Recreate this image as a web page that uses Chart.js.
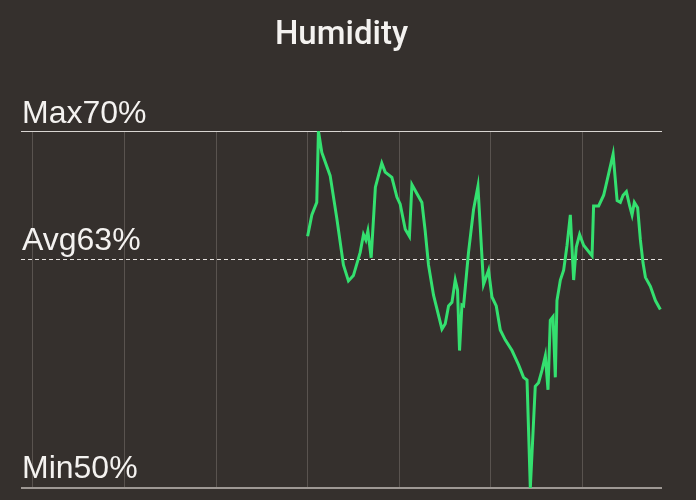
<!DOCTYPE html>
<html>
<head>
<meta charset="utf-8">
<script src="https://cdn.jsdelivr.net/npm/chart.js@4.4.1/dist/chart.umd.min.js"></script>
<style>
  html, body { margin: 0; padding: 0; background: #35302d; }
  #wrap { width: 696px; height: 500px; }
</style>
</head>
<body>
<div id="wrap"><canvas id="humidityChart" width="696" height="500"></canvas></div>
<script>
// Humidity readings, time in days since start of the week window
const dayTimes = [
    3.00, 3.046, 3.10, 3.118, 3.155, 3.246, 3.319, 3.391, 3.446, 3.50,
    3.574, 3.61, 3.636, 3.658, 3.694, 3.74, 3.81, 3.847, 3.92, 3.975,
    4.011, 4.066, 4.112, 4.139, 4.193, 4.248, 4.284, 4.32, 4.375, 4.467,
    4.503, 4.539, 4.576, 4.612, 4.637, 4.659, 4.685, 4.703, 4.757, 4.812,
    4.86, 4.921, 4.976, 5.013, 5.06, 5.104, 5.158, 5.232, 5.304, 5.358,
    5.396, 5.432, 5.486, 5.522, 5.56, 5.596, 5.625, 5.65, 5.68, 5.705,
    5.723, 5.76, 5.796, 5.833, 5.869, 5.905, 5.934, 5.97, 6.014, 6.106,
    6.123, 6.178, 6.233, 6.287, 6.336, 6.38, 6.415, 6.445, 6.481, 6.517,
    6.543, 6.568, 6.604, 6.634, 6.663, 6.689, 6.743, 6.798, 6.852
];
const humidity = [
    64.1, 65.3, 66.0, 70.0, 68.8, 67.5, 65.1, 62.5, 61.6, 61.9,
    63.2, 64.2, 63.9, 64.4, 62.9, 66.85, 68.2, 67.7, 67.4, 66.3,
    65.9, 64.5, 64.1, 67.0, 66.5, 66.0, 64.4, 62.5, 60.8, 58.9,
    59.2, 60.2, 60.4, 61.65, 61.1, 57.7, 60.25, 60.2, 63.2, 65.6,
    66.9, 61.4, 62.2, 60.7, 60.2, 58.85, 58.3, 57.7, 56.9, 56.2,
    56.05, 50.0, 55.7, 55.9, 56.6, 57.4, 55.5, 59.4, 59.6, 56.2,
    60.5, 61.65, 62.2, 63.6, 65.3, 61.65, 63.5, 64.2, 63.6, 63.0,
    65.8, 65.8, 66.4, 67.6, 68.7, 66.1, 66.0, 66.4, 66.6, 65.8,
    65.3, 66.0, 65.7, 63.9, 62.6, 61.8, 61.3, 60.5, 60.0
];
// day boundaries (midnights) shown as vertical grid lines
const dayTicks = [0, 1, 2, 3, 4, 5, 6];

const maxHumidity = 70;
const minHumidity = 50;
const avgHumidity = 62.85;
const labelFont = '32px "Liberation Sans", Arial, sans-serif';

// Max / Avg / Min reference lines with their labels
const referenceLines = {
    id: 'referenceLines',
    beforeDatasetsDraw(chart) {
        const { ctx, chartArea, scales } = chart;
        const y = scales.y;
        const yMax = Math.round(y.getPixelForValue(maxHumidity)) + 0.5;
        const yAvg = Math.round(y.getPixelForValue(avgHumidity)) + 0.5;
        const yMin = Math.round(y.getPixelForValue(minHumidity));

        ctx.save();
        // top line
        ctx.strokeStyle = '#d9d5d2';
        ctx.lineWidth = 1;
        ctx.beginPath();
        ctx.moveTo(chartArea.left, yMax);
        ctx.lineTo(chartArea.right, yMax);
        ctx.stroke();

        // average dashed
        ctx.setLineDash([4, 3]);
        ctx.strokeStyle = '#e6e2df';
        ctx.beginPath();
        ctx.moveTo(chartArea.left, yAvg);
        ctx.lineTo(chartArea.right, yAvg);
        ctx.stroke();
        ctx.setLineDash([]);

        // bottom line
        ctx.strokeStyle = '#9e9894';
        ctx.lineWidth = 2;
        ctx.beginPath();
        ctx.moveTo(chartArea.left, yMin);
        ctx.lineTo(chartArea.right, yMin);
        ctx.stroke();

        // labels
        ctx.fillStyle = '#f4f2f0';
        ctx.font = labelFont;
        ctx.textAlign = 'left';
        ctx.textBaseline = 'alphabetic';
        ctx.fillText('Max' + maxHumidity + '%', chartArea.left + 1, yMax - 9);
        ctx.fillText('Avg' + Math.round(avgHumidity) + '%', chartArea.left + 1, yAvg - 10);
        ctx.fillText('Min' + minHumidity + '%', chartArea.left + 1, yMin - 10);

        // title
        ctx.font = '500 33px Roboto, "Liberation Sans", sans-serif';
        ctx.textAlign = 'center';
        ctx.fillText('Humidity', (chartArea.left + chartArea.right) / 2, 44);
        ctx.restore();
    }
};

const ctx = document.getElementById('humidityChart');

new Chart(ctx, {
    type: 'line',
    data: {
        datasets: [{
            label: 'Humidity',
            data: dayTimes.map((t, i) => ({ x: t, y: humidity[i] })),
            borderColor: '#34e06f',
            borderWidth: 3,
            pointRadius: 0,
            tension: 0,
            fill: false
        }]
    },
    options: {
        responsive: false,
        animation: false,
        layout: {
            padding: { left: 21, right: 34, top: 131, bottom: 12 }
        },
        plugins: {
            legend: { display: false },
            tooltip: { enabled: false },
            title: { display: false }
        },
        scales: {
            x: {
                type: 'linear',
                min: -0.13,
                max: 6.87,
                afterBuildTicks: (scale) => {
                    scale.ticks = dayTicks.map(v => ({ value: v }));
                },
                ticks: { display: false },
                grid: { color: '#59534f', lineWidth: 1, drawTicks: false },
                border: { display: false }
            },
            y: {
                min: minHumidity,
                max: maxHumidity,
                display: false
            }
        }
    },
    plugins: [referenceLines]
});
</script>
</body>
</html>
